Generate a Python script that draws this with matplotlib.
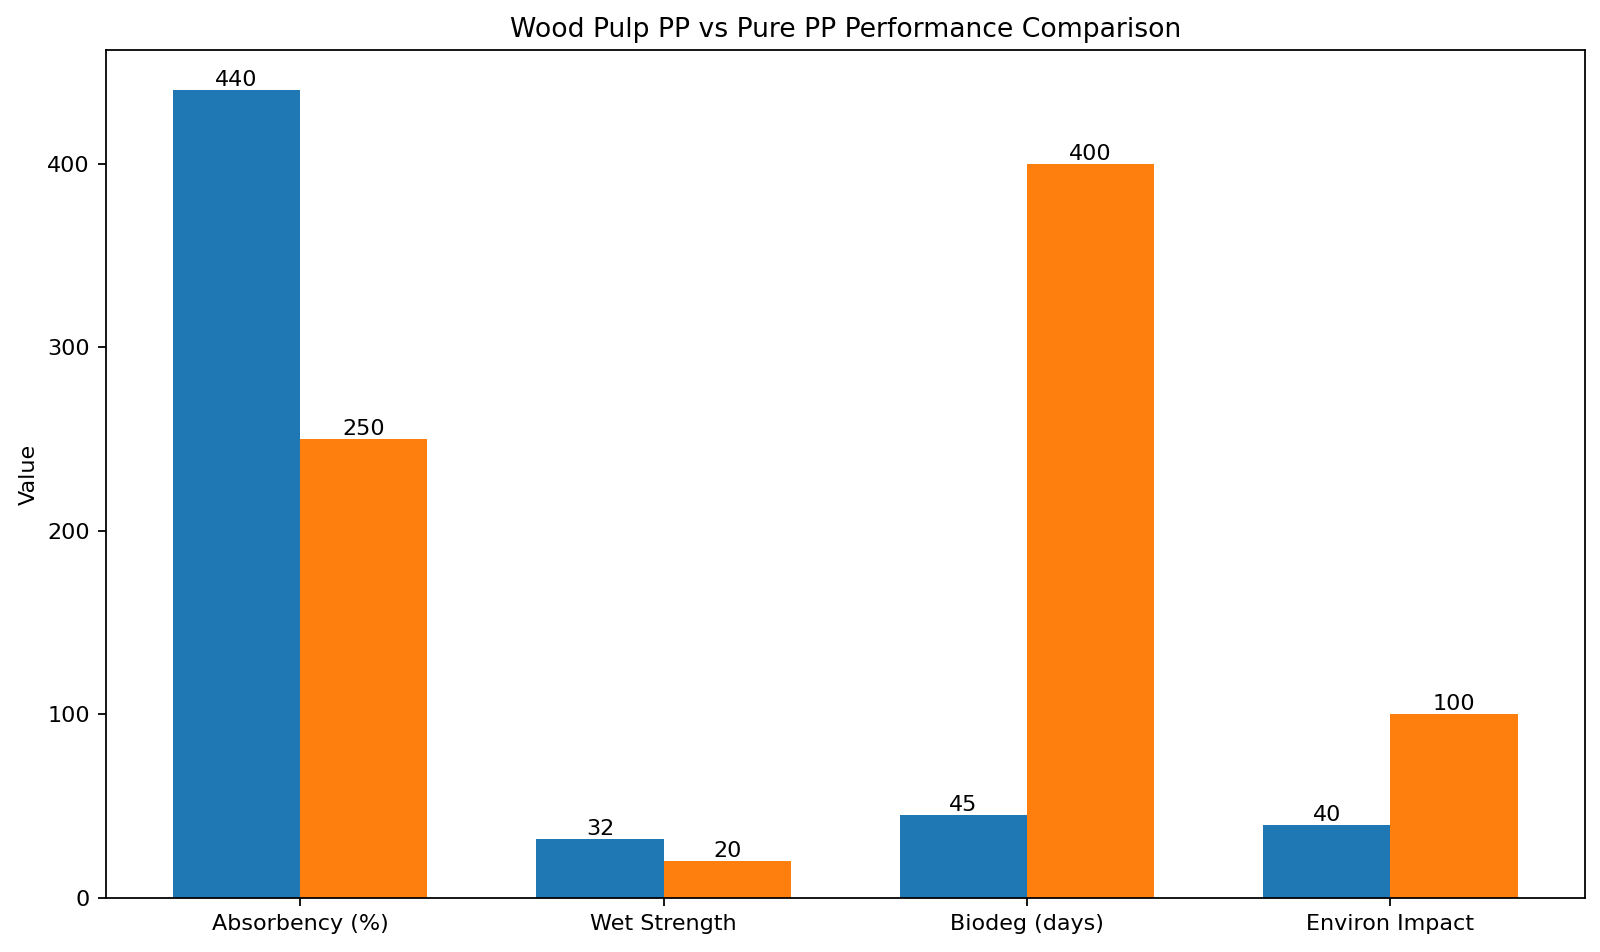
import matplotlib
matplotlib.use("Agg")
import matplotlib.pyplot as plt
import numpy as np

categories = ["Absorbency (%)", "Wet Strength", "Biodeg (days)", "Environ Impact"]
wood_pulp_pp = [440, 32, 45, 40]
pure_pp = [250, 20, 400, 100]

x = np.arange(len(categories))
width = 0.35

fig, ax = plt.subplots(figsize=(10, 5.95), dpi=160)
b1 = ax.bar(x - width / 2, wood_pulp_pp, width, label="Wood Pulp PP", color="#1f77b4")
b2 = ax.bar(x + width / 2, pure_pp, width, label="Pure PP", color="#ff7f0e")
ax.bar_label(b1)
ax.bar_label(b2)

ax.set_xticks(x)
ax.set_xticklabels(categories)
ax.set_ylabel("Value")
ax.set_title("Wood Pulp PP vs Pure PP Performance Comparison")

fig.subplots_adjust(left=0.066, right=0.9906, top=0.9475, bottom=0.0567)
fig.savefig("out.png", dpi=160)
